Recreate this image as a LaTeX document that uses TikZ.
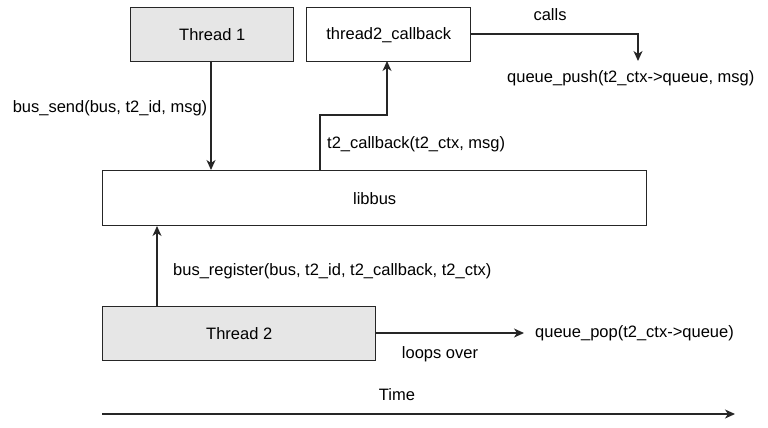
\documentclass[tikz,border=0pt]{standalone}
\usepackage{fontspec}
\setmainfont{Liberation Sans}
\usetikzlibrary{arrows.meta}
\definecolor{boxgray}{HTML}{E6E6E6}
\begin{document}
\begin{tikzpicture}[x=1pt,y=-1pt,
  every node/.style={font=\fontsize{16.5}{19}\selectfont},
  box/.style={draw=black!85,line width=1.4pt,minimum width=#1,minimum height=54pt,inner sep=0pt,anchor=north west},
  thread/.style={box=#1,fill=boxgray},
  lbl/.style={inner sep=0pt},
  conn/.style={draw=black!85,line width=1.4pt,-{Stealth[length=10pt,width=9pt,inset=3pt]}}]
\useasboundingbox (0,0) rectangle (768,428);
\node[thread=163pt] (t1) at (130,7) {};
\node at (t1.center) {Thread 1};
\node[box=164pt] (cb) at (306,7) {};
\node at (cb.center) {thread2\_callback};
\node[box=544pt,minimum height=55pt] (lib) at (102,170) {};
\node at (lib.center) {libbus};
\node[thread=273pt] (t2) at (102,306) {};
\node at (t2.center) {Thread 2};

\coordinate (a1s) at (211,61);
\coordinate (a1e) at (211,170);
\draw[conn] (a1s) -- (a1e);
\node[lbl] (l1) at (110,108) {bus\_send(bus, t2\_id, msg)};

\coordinate (a2s) at (320,170);
\coordinate (a2e) at (387,61);
\draw[conn] (a2s) -- (320,115) -- (387,115) -- (a2e);
\node[lbl,anchor=west] (l2) at (327,144) {t2\_callback(t2\_ctx, msg)};

\coordinate (a3s) at (470,34);
\coordinate (a3e) at (638,61);
\draw[conn] (a3s) -- (638,34) -- (a3e);
\node[lbl] (l3) at (550,15) {calls};
\node[lbl,anchor=west] (qp) at (507,78) {queue\_push(t2\_ctx->queue, msg)};

\coordinate (a4s) at (157,306);
\coordinate (a4e) at (157,226);
\draw[conn] (a4s) -- (a4e);
\node[lbl,anchor=west] (l4) at (173,271) {bus\_register(bus, t2\_id, t2\_callback, t2\_ctx)};

\coordinate (a5s) at (375,333);
\coordinate (a5e) at (524,333);
\draw[conn] (a5s) -- (a5e);
\node[lbl,anchor=west] (qpop) at (535,333) {queue\_pop(t2\_ctx->queue)};
\node[lbl] (l5) at (440,354) {loops over};

\coordinate (ts) at (102,414);
\coordinate (te) at (735,414);
\draw[conn] (ts) -- (te);
\node[lbl] (time) at (397,395) {Time};
\end{tikzpicture}
\end{document}
